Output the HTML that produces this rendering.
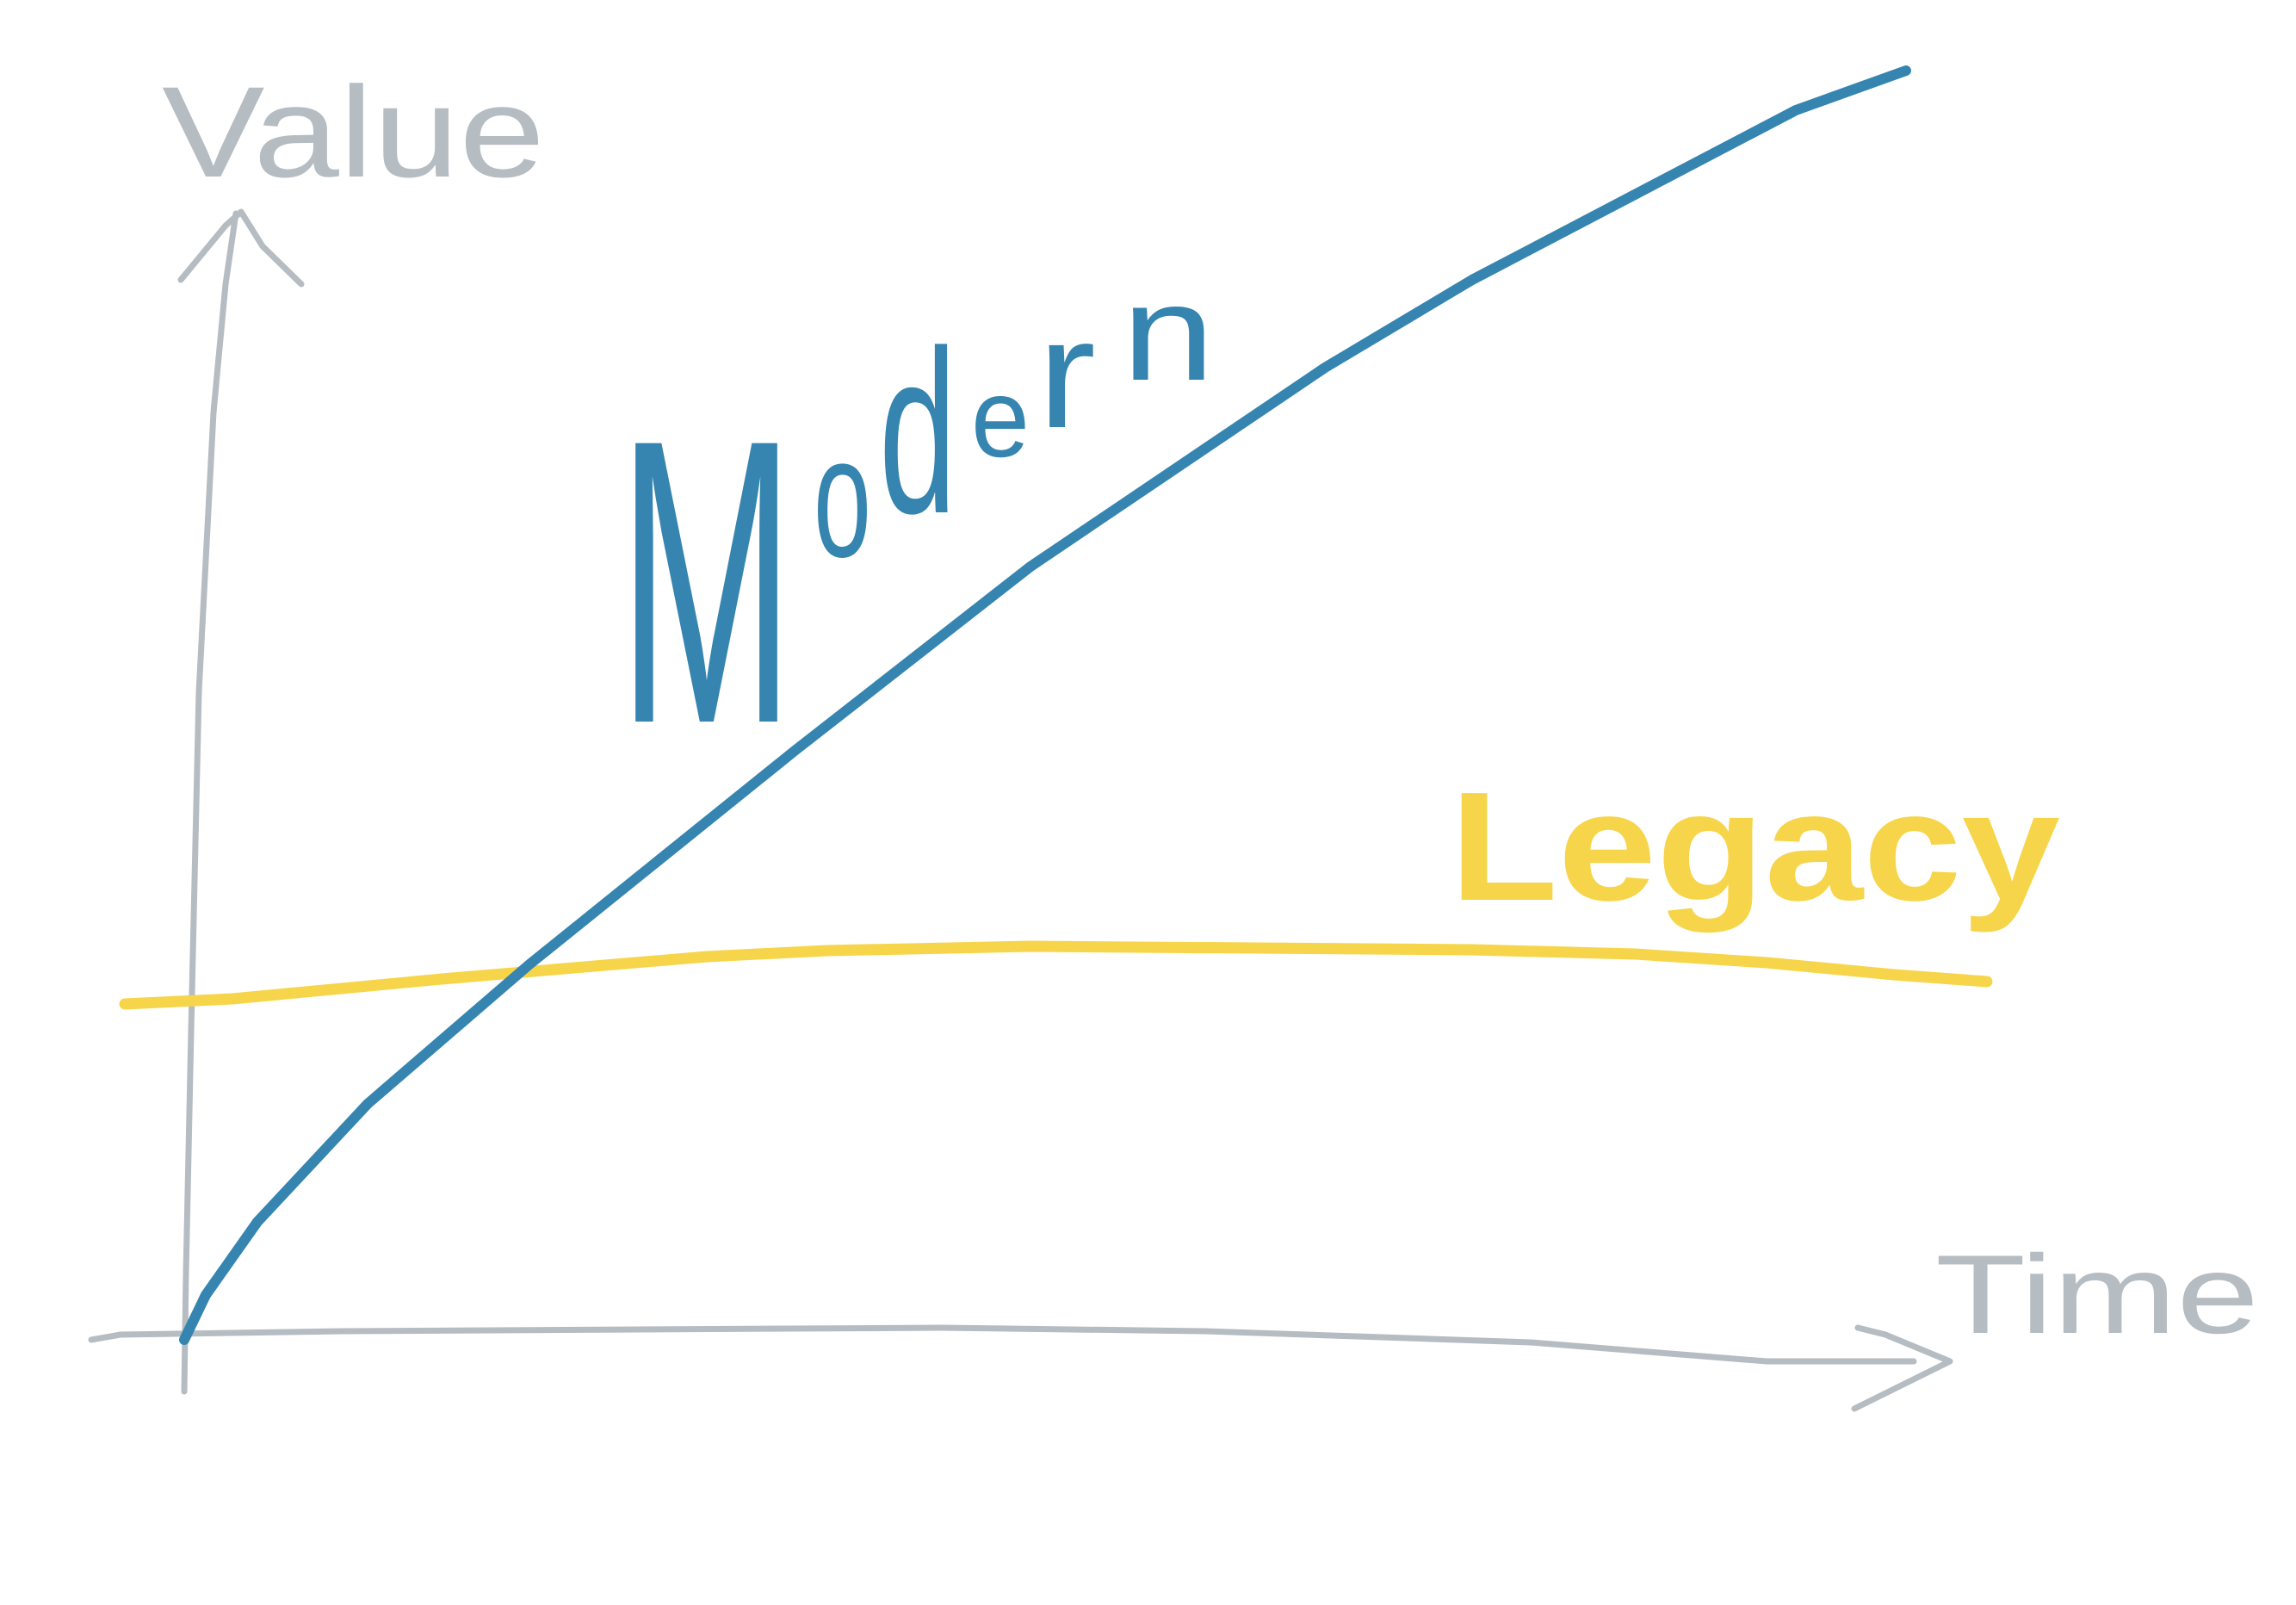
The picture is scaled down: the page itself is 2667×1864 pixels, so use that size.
<!DOCTYPE html>
<html><head><meta charset="utf-8"><style>
html,body{margin:0;padding:0;background:#fff;}
svg{display:block;}
text{font-family:"Liberation Sans","DejaVu Sans",sans-serif;}
</style></head><body>
<svg width="2667" height="1864" viewBox="0 0 2667 1864" xmlns="http://www.w3.org/2000/svg">
<g fill="none" stroke-linecap="round" stroke-linejoin="round">
<polyline stroke="#b5bcc2" stroke-width="7" points="214,1616 216,1480 222,1197 231,804 248,479 262,330 274,248"/>
<polyline stroke="#b5bcc2" stroke-width="7" points="210,325 262,262 280,246 305,286 350,330"/>
<polyline stroke="#b5bcc2" stroke-width="7" points="106,1556 140,1550 400,1546 1094,1542 1400,1546 1778,1559 2052,1581 2223,1581"/>
<polyline stroke="#b5bcc2" stroke-width="7" points="2158,1542 2190,1550 2265,1581 2154,1636"/>
<polyline stroke="#f7d54a" stroke-width="13" points="145,1166 270,1160 513,1137 821,1111 960,1104 1197,1099 1710,1103 1900,1108 2052,1118 2200,1132 2308,1140"/>
<polyline stroke="#3585b0" stroke-width="12" points="214,1556 239,1504 299,1419 427,1282 615,1120 923,872 1197,658 1539,427 1710,325 2086,128 2214,82"/>
</g>
<text x="188" y="205" font-size="150" fill="#b5bcc2" textLength="445" lengthAdjust="spacingAndGlyphs">Value</text>
<g fill="#3585b0">
<text x="718" y="838" font-size="470" textLength="205" lengthAdjust="spacingAndGlyphs">M</text>
<text x="945" y="646" font-size="200" textLength="67" lengthAdjust="spacingAndGlyphs">o</text>
<text x="1021" y="595" font-size="270" textLength="90" lengthAdjust="spacingAndGlyphs">d</text>
<text x="1128" y="530" font-size="130" textLength="68" lengthAdjust="spacingAndGlyphs">e</text>
<text x="1205" y="496" font-size="180" textLength="68" lengthAdjust="spacingAndGlyphs">r</text>
<text x="1303" y="441" font-size="158" textLength="108" lengthAdjust="spacingAndGlyphs">n</text>
</g>
<text x="1684" y="1045" font-size="180" fill="#f7d54a" font-weight="bold" textLength="709" lengthAdjust="spacingAndGlyphs">Legacy</text>
<text x="2248" y="1548" font-size="130" fill="#b5bcc2" textLength="376" lengthAdjust="spacingAndGlyphs">Time</text>
</svg>
</body></html>
